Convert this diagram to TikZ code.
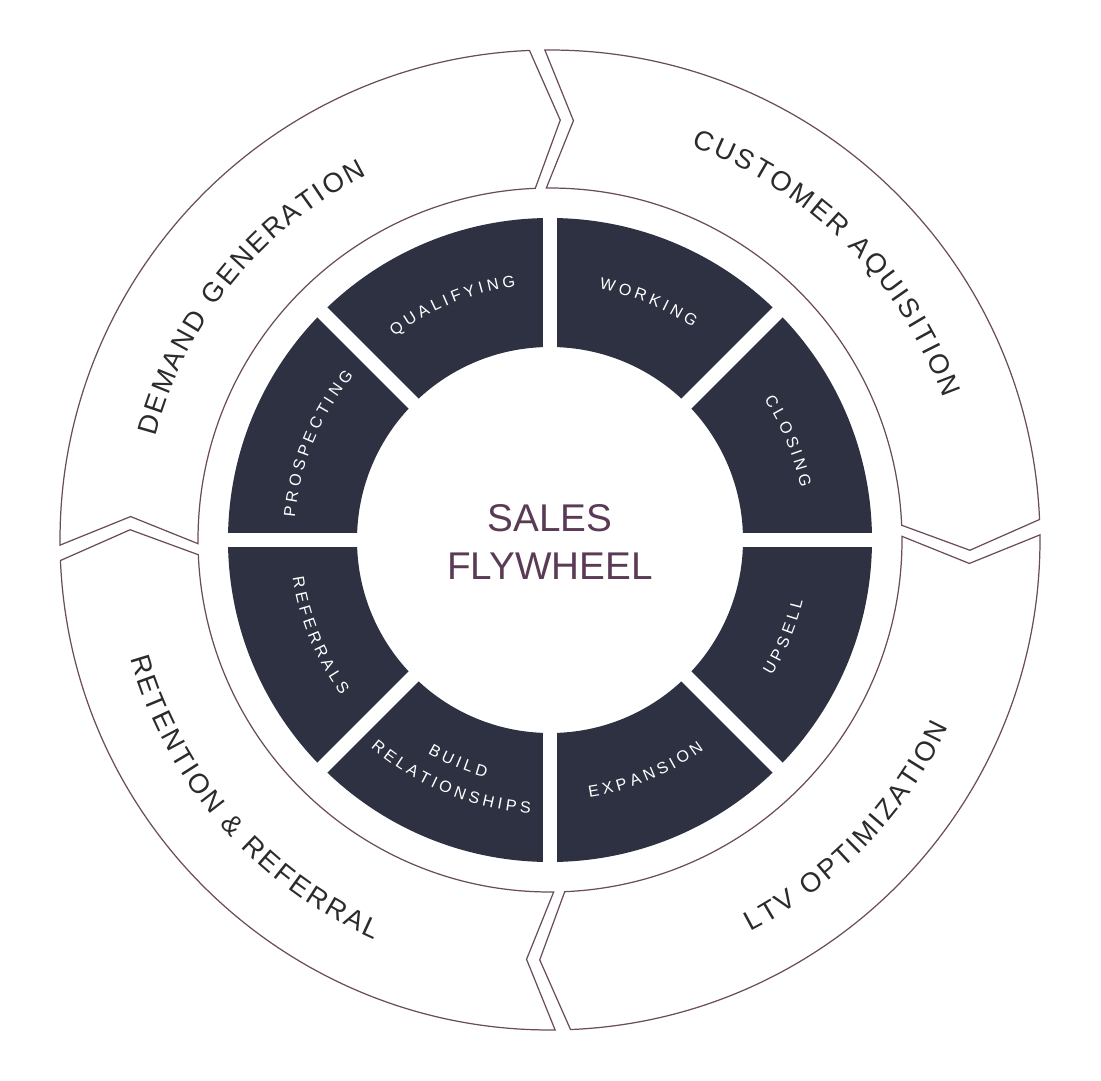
\documentclass[tikz,border=0pt]{standalone}
\usepackage{fontspec}
\setmainfont{Liberation Sans}
\usetikzlibrary{decorations.text}
\definecolor{navy}{HTML}{2D3142}
\definecolor{rim}{HTML}{6B4C5E}
\definecolor{ctr}{HTML}{5B3A55}
\definecolor{txt}{HTML}{2B2B2B}
\newcommand{\ofont}{\fontsize{7.8}{10}\selectfont}
\newcommand{\ifont}{\fontsize{4.6}{6}\selectfont}
\tikzset{
  seg/.style={draw=rim, line width=0.35pt, fill=white},
  otext/.style={decorate, decoration={text effects along path, text={#1}, text align=center,
     text effects/.cd, text along path, character widths={font=\ofont, inner xsep=0.035em},
     characters={font=\ofont, text=txt}}},
  itext/.style={decorate, decoration={text effects along path, text={#1}, text align=center,
     text effects/.cd, text along path, character widths={font=\ifont, inner xsep=0.055em},
     characters={font=\ifont, text=white}}}
}
\newcommand{\outerseg}[3]{% name, start angle, end angle (clockwise)
  \path[seg] (#2-0.9:4.90) arc[start angle=#2-0.9, end angle=#3+0.9, radius=4.90]
    -- (#3+0.9-3.8:4.20) -- (#3+0.9:3.52)
    arc[start angle=#3+0.9, end angle=#2-0.9, radius=3.52]
    -- (#2-0.9-3.8:4.20) -- cycle;}
\begin{document}
\begin{tikzpicture}
\useasboundingbox (-5.50,-5.40) rectangle (5.51,5.40);
\outerseg{dg}{181.5}{91.5}
\outerseg{ca}{91.5}{1.5}
\outerseg{ltv}{1.5}{-88.5}
\outerseg{rr}{-88.5}{-178.5}
% outer texts
\path[otext={DEMAND GENERATION}] (181:4.08) arc[start angle=181, end angle=101, radius=4.08];
\path[otext={CUSTOMER AQUISITION}] (85:4.18) arc[start angle=85, end angle=5, radius=4.18];
\path[otext={LTV OPTIMIZATION}] (-84:4.40) arc[start angle=-84, end angle=-4, radius=4.40];
\path[otext={RETENTION \& REFERRAL}] (-179:4.36) arc[start angle=-179, end angle=-99, radius=4.36];
% dark ring
\fill[navy, even odd rule] (0,0) circle (3.22) (0,0) circle (1.93);
\foreach \a in {0,45,...,315} \draw[white, line width=0.14cm] (\a:1.8) -- (\a:3.4);
% inner texts
\path[itext={QUALIFYING}] (112.5+22:2.56) arc[start angle=112.5+22, end angle=112.5-22, radius=2.56];
\path[itext={WORKING}] (67.5+22:2.56) arc[start angle=67.5+22, end angle=67.5-22, radius=2.56];
\path[itext={CLOSING}] (22.5+22:2.56) arc[start angle=22.5+22, end angle=22.5-22, radius=2.56];
\path[itext={PROSPECTING}] (157.5+22:2.56) arc[start angle=157.5+22, end angle=157.5-22, radius=2.56];
\path[itext={UPSELL}] (-22.5-22:2.60) arc[start angle=-22.5-22, end angle=-22.5+22, radius=2.60];
\path[itext={EXPANSION}] (-67.5-22:2.60) arc[start angle=-67.5-22, end angle=-67.5+22, radius=2.60];
\path[itext={REFERRALS}] (-157.5-22:2.60) arc[start angle=-157.5-22, end angle=-157.5+22, radius=2.60];
\path[itext={BUILD}] (-112.5-22:2.46) arc[start angle=-112.5-22, end angle=-112.5+22, radius=2.46];
\path[itext={RELATIONSHIPS}] (-112.5-22:2.74) arc[start angle=-112.5-22, end angle=-112.5+22, radius=2.74];
\node[text=ctr, font=\fontsize{11}{13.8}\selectfont, align=center] (c) at (0,-0.02) {SALES\\FLYWHEEL};
\end{tikzpicture}
\end{document}
